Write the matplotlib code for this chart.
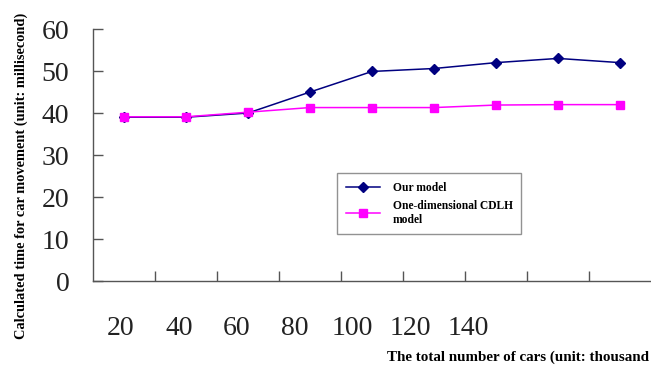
import numpy as np
import matplotlib
matplotlib.use("Agg")
import matplotlib.pyplot as plt

# ---- data ----
x_tick_labels = ["20", "40", "60", "80", "100", "120", "140"]
our_model = [39.0, 39.0, 40.0, 45.0, 49.9, 50.6, 52.0, 53.0, 52.0]
cdlh_model = [39.1, 39.1, 40.2, 41.3, 41.3, 41.3, 41.9, 42.0, 42.0]
y_ticks = [0, 10, 20, 30, 40, 50, 60]

plt.rcParams['font.family'] = ['Liberation Serif', 'DejaVu Serif']

fig = plt.figure(figsize=(6.51, 3.67), dpi=100)
ax = fig.add_axes([0.1429, 0.2343, 0.8571, 0.6866])

x = np.arange(len(our_model))
ax.plot(x, our_model, color='#000080', marker='D', markersize=5.5, lw=1.1,
        label='Our model', zorder=3)
ax.plot(x, cdlh_model, color='#FF00FF', marker='s', markersize=6, lw=1.1,
        label='One-dimensional CDLH\nmodel', zorder=4)

ax.set_xlim(-0.5, len(our_model) - 0.5)
ax.set_ylim(0, 60)

for s in ['top', 'right']:
    ax.spines[s].set_visible(False)
for s in ['left', 'bottom']:
    ax.spines[s].set_color('#555555')
    ax.spines[s].set_linewidth(1.0)

ax.set_yticks(y_ticks)
ax.set_yticklabels([str(v) for v in y_ticks])
ax.tick_params(axis='y', direction='in', length=7, width=1.0, color='#555555',
               labelsize=20, pad=17, labelcolor='#222222')
ax.set_xticks(np.arange(len(our_model) - 1) + 0.5)
ax.set_xticklabels([])
ax.tick_params(axis='x', direction='in', length=7, width=1.0, color='#555555')

# misaligned category labels as in the reference
for i, lab in enumerate(x_tick_labels):
    ax.text(-0.05 + i * 0.935, -0.19, lab, transform=ax.get_xaxis_transform(),
            ha='center', va='center', fontsize=20, color='#222222')

fig.text(0.032, 0.52, 'Calculated time for car movement (unit: millisecond)',
         rotation=90, ha='center', va='center', fontsize=10.4, fontweight='bold')
fig.text(0.594, 0.027, 'The total number of cars (unit: thousand',
         ha='left', va='center', fontsize=10.8, fontweight='bold')

leg = ax.legend(loc='upper left', bbox_to_anchor=(0.437, 0.4286), frameon=True,
                fancybox=False, shadow=False, prop={'weight': 'bold', 'size': 8.3},
                handlelength=3.0, borderpad=0.75, labelspacing=0.55, handletextpad=1.1,
                edgecolor='#777777', borderaxespad=0)
leg.get_frame().set_linewidth(1.0)

fig.savefig('out.png', dpi=100)
